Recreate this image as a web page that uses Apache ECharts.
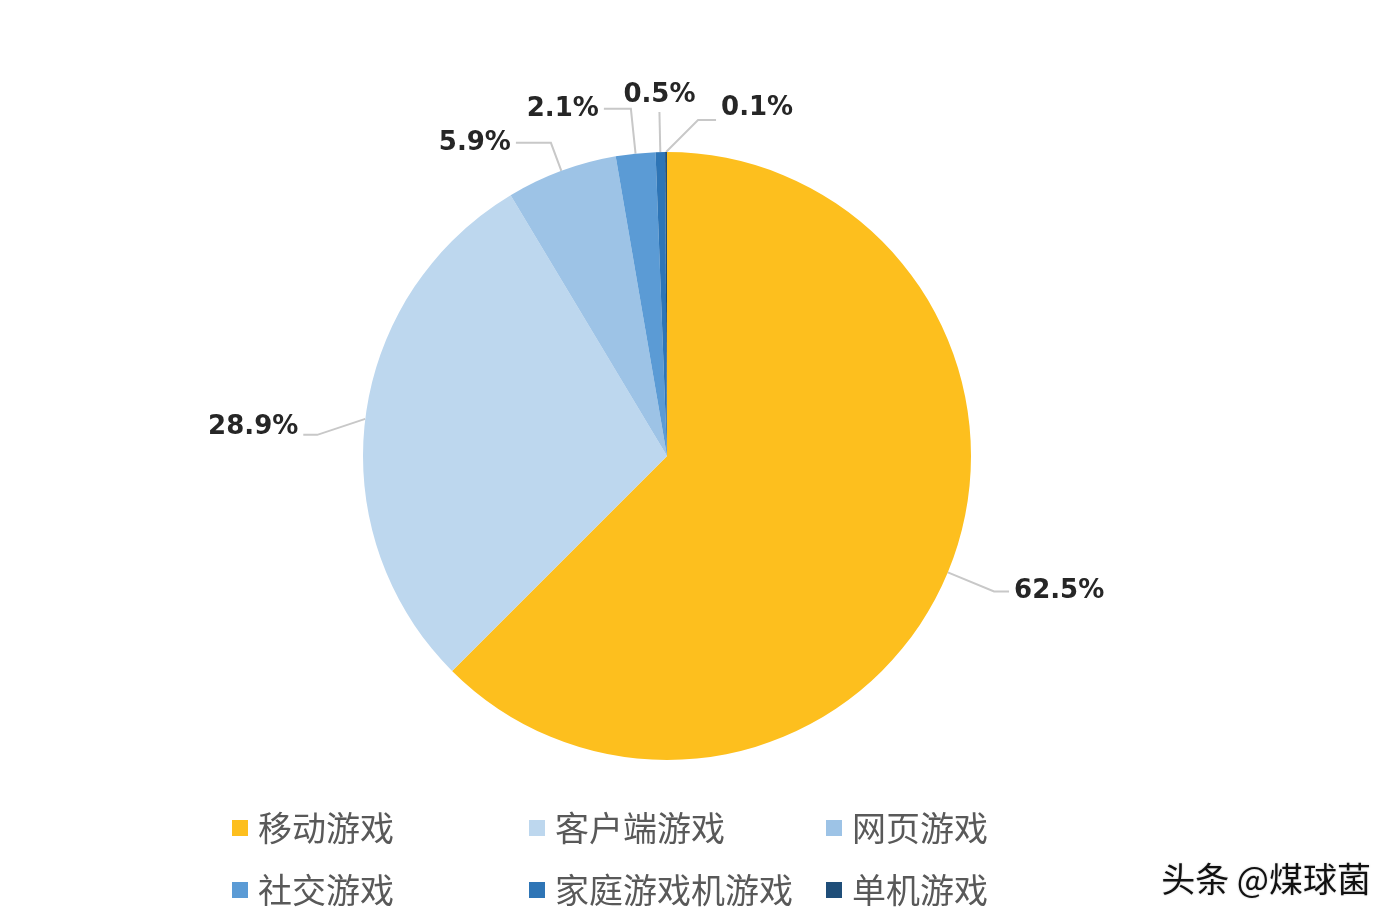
<!DOCTYPE html>
<html>
<head>
<meta charset="utf-8">
<script src="https://cdn.jsdelivr.net/npm/echarts@6/dist/echarts.min.js"></script>
<style>html,body{margin:0;padding:0;background:#fff;}#c{width:1399px;height:922px;}</style>
</head>
<body>
<div id="c"></div>
<script>
const categories = ['移动游戏', '客户端游戏', '网页游戏', '社交游戏', '家庭游戏机游戏', '单机游戏'];
const values = [62.5, 28.9, 5.9, 2.1, 0.5, 0.1];
const colors = ['#FDBF1E', '#BDD7EE', '#9DC3E6', '#5B9BD5', '#2E75B6', '#1F4E79'];
const lineLen = [50, 45, 30, 45, 40, 40];
const lineLen2 = [15, 18, 35, 27, 0, 20];
const watermark = '头条 @煤球菌';

const chart = echarts.init(document.getElementById('c'));
const data = categories.map((name, i) => ({
  name: name,
  value: values[i],
  itemStyle: { color: colors[i] },
  labelLine: { length: lineLen[i], length2: lineLen2[i] }
}));

chart.setOption({
  animation: false,
  legend: {
    left: 227,
    top: 797,
    width: 900,
    itemWidth: 16,
    itemHeight: 16,
    itemGap: 10,
    icon: 'rect',
    data: categories,
    formatter: name => '{a|' + name + '}',
    textStyle: {
      rich: {
        a: { width: 261, fontSize: 34, height: 52, lineHeight: 52, color: '#595959', padding: [0, 0, 0, 5],
             fontFamily: 'Noto Sans CJK SC' }
      }
    }
  },
  graphic: [{
    type: 'text',
    right: 28,
    top: 862,
    style: {
      text: watermark,
      font: '34px "Noto Sans CJK SC"',
      fill: '#111',
      textShadowColor: 'rgba(0,0,0,0.25)',
      textShadowBlur: 2
    }
  }],
  series: [{
    type: 'pie',
    center: [667, 456],
    radius: [0, 304],
    startAngle: 90,
    clockwise: true,
    avoidLabelOverlap: false,
    data: data,
    label: {
      show: true,
      position: 'outside',
      formatter: p => p.value.toFixed(1) + '%',
      fontSize: 26,
      fontWeight: 'bold',
      fontFamily: 'DejaVu Sans',
      color: '#262626'
    },
    labelLine: {
      show: true,
      lineStyle: { color: '#C8C8C8', width: 2 }
    },
    emphasis: { disabled: true },
    labelLayout: function (params) {
      const p = params.labelLinePoints;
      if (!p) return {};
      const s = p[0];
      if (params.dataIndex === 4) {
        return {
          x: p[1][0], y: p[1][1] - 4,
          align: 'center', verticalAlign: 'bottom',
          labelLinePoints: [s, p[1], p[1]]
        };
      }
      if (params.dataIndex === 5) {
        const a = [s[0] + 32, s[1] - 32];
        const b = [a[0] + 18, a[1]];
        return {
          x: b[0] + 5, y: b[1] - 12,
          align: 'left', verticalAlign: 'middle',
          labelLinePoints: [s, a, b]
        };
      }
      if (params.dataIndex === 1) {
        const a = [s[0] - 48, s[1] + 16];
        const b = [a[0] - 14, a[1]];
        return {
          x: b[0] - 5, y: b[1] - 8,
          align: 'right', verticalAlign: 'middle',
          labelLinePoints: [s, a, b]
        };
      }
      return {};
    }
  }]
});
</script>
</body>
</html>
